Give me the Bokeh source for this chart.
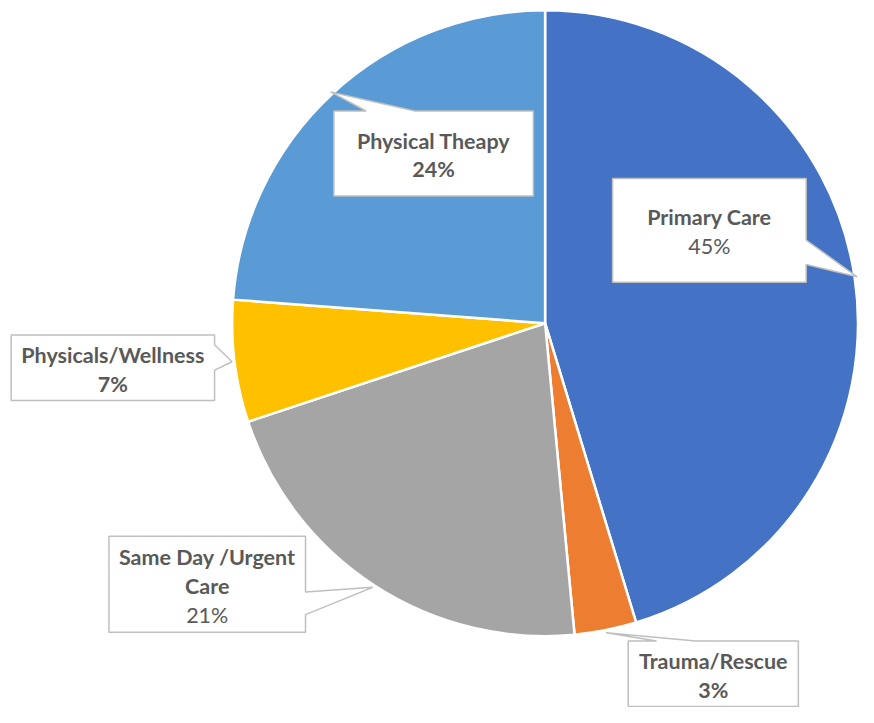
import numpy as np
from bokeh.plotting import figure
from bokeh.models import Range1d
from bokeh.core.properties import value
from bokeh.embed import file_html
from bokeh.resources import INLINE

# ---- data ----
categories = ["Primary Care", "Trauma/Rescue", "Same Day /Urgent Care",
              "Physicals/Wellness", "Physical Theapy"]
shares = [45.3, 3.2, 21.4, 6.3, 23.8]
pct_labels = ["45%", "3%", "21%", "7%", "24%"]
name_lines = [["Primary Care"], ["Trauma/Rescue"], ["Same Day /Urgent", "Care"],
              ["Physicals/Wellness"], ["Physical Theapy"]]
pct_bold = [False, True, False, True, True]
colors = ["#4472C4", "#ED7D31", "#A5A5A5", "#FFC000", "#5B9BD5"]

# ---- layout (reference pixel space, y down) ----
W, H = 858, 707
S = 707 / 723
CX, CY, R = 553.0, 330.0, 320.0
X0 = 873.5 - W / S
Y0 = 0.0

# callout boxes: x0, y0, x1, y1, side, base start, base end
boxes = [
    (622, 182, 820, 288, "right", 245, 270),
    (638, 655, 812, 722, "top", 667, 707),
    (107, 548, 308, 646, "right", 605, 628),
    (7, 342, 215, 409, "right", 352, 378),
    (337, 113, 541, 200, "top", 370, 420),
]

FONT = "Lato"
FS = 22.0 * S
LINE = 29.5
TXT = "#595959"

p = figure(width=W, height=H, output_backend="svg", toolbar_location=None,
           x_range=Range1d(X0, X0 + W / S), y_range=Range1d(-(Y0 + H / S), -Y0),
           min_border=0, outline_line_color=None)
p.axis.visible = False
p.grid.visible = False
p.background_fill_color = "white"

fr = np.array(shares) / sum(shares)
cum = np.concatenate([[0], np.cumsum(fr)])
starts = np.pi / 2 - cum[1:] * 2 * np.pi
ends = np.pi / 2 - cum[:-1] * 2 * np.pi
p.wedge(x=[CX] * len(fr), y=[-CY] * len(fr), radius=R,
        start_angle=list(starts), end_angle=list(ends), direction="anticlock",
        fill_color=colors, line_color="white", line_width=2.5)

mids = (cum[:-1] + cum[1:]) / 2 * 2 * np.pi  # clockwise from top
xs_all, ys_all = [], []
for i, (bx0, by0, bx1, by1, side, b1, b2) in enumerate(boxes):
    tr = R * 1.008
    tx = CX + tr * np.sin(mids[i])
    ty = CY - tr * np.cos(mids[i])
    if side == "top":
        pts = [(bx0, by0), (b1, by0), (tx, ty), (b2, by0), (bx1, by0), (bx1, by1), (bx0, by1)]
    else:  # right
        pts = [(bx0, by0), (bx1, by0), (bx1, b1), (tx, ty), (bx1, b2), (bx1, by1), (bx0, by1)]
    xs_all.append([q[0] for q in pts])
    ys_all.append([-q[1] for q in pts])
p.patches(xs_all, ys_all, fill_color="white", line_color="#BFBFBF", line_width=1.5)

for i, (bx0, by0, bx1, by1, side, b1, b2) in enumerate(boxes):
    lines = name_lines[i] + [pct_labels[i]]
    n = len(lines)
    cx = (bx0 + bx1) / 2
    cy = (by0 + by1) / 2 + 1.5
    for k, t in enumerate(lines):
        y = cy + (k - (n - 1) / 2) * LINE
        bold = (k < n - 1) or pct_bold[i]
        p.text(x=[cx], y=[-y], text=[t], text_align="center", text_baseline="middle",
               text_font=value(FONT), text_font_size=f"{FS:.1f}px",
               text_font_style="bold" if bold else "normal", text_color=TXT)

open("out.html", "w").write(file_html(p, INLINE))
